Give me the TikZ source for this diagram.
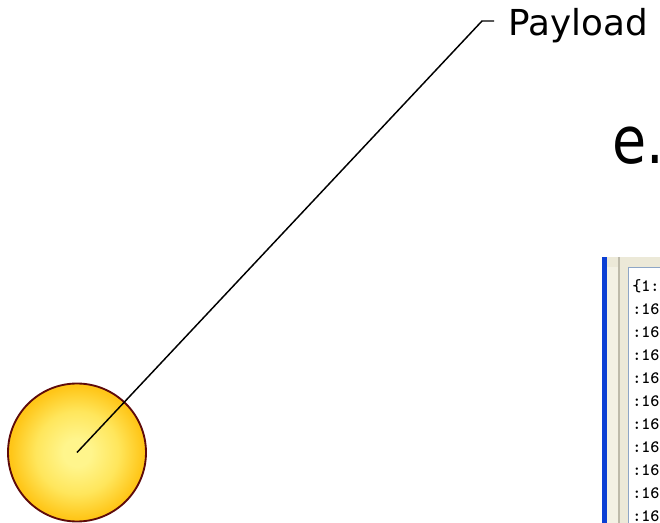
\documentclass[tikz,border=0pt]{standalone}
\usepackage{fontspec}
\setmainfont{DejaVu Sans}
\definecolor{ballin}{HTML}{FFF58C}
\definecolor{ballmid}{HTML}{FFE65C}
\definecolor{ballout}{HTML}{FFC618}
\definecolor{ballrim}{HTML}{5E0B0B}
\definecolor{xpblue}{HTML}{0B3FD4}
\definecolor{xpcream}{HTML}{F3F1E4}
\definecolor{xpbeige}{HTML}{ECE9D8}
\definecolor{xpgray}{HTML}{BDBAAA}
\definecolor{xpframe}{HTML}{8EA6C6}
\pgfdeclareradialshading{ballshade}{\pgfpoint{0bp}{0bp}}{color(0bp)=(ballin); color(5bp)=(ballin); color(15bp)=(ballmid); color(24bp)=(ballout); color(25bp)=(ballout); color(50bp)=(ballout)}
\tikzset{
  leader/.style={draw=black, line width=1.1pt},
  ballstyle/.style={circle, inner sep=0pt, minimum size=103.5pt, shading=ballshade, draw=ballrim, line width=1.4pt},
  labeltext/.style={anchor=base west, inner sep=0pt, font=\fontsize{26.8pt}{30pt}\selectfont},
  bigtext/.style={anchor=base west, inner sep=0pt, xscale=0.85, font=\fontsize{49pt}{55pt}\selectfont},
  codeline/.style={anchor=base west, inner sep=0pt, font=\ttfamily\bfseries\fontsize{13pt}{15pt}\selectfont, text=black}
}
\begin{document}
\begin{tikzpicture}[x=0.75pt, y=-0.75pt]
\useasboundingbox (0,0) rectangle (660,523);
\begin{scope}
\clip (0,0) rectangle (660,523);
% screenshot fragment
\fill[xpcream] (607,257) rectangle (660,523);
\fill[xpbeige] (620,257) rectangle (660,523);
\fill[xpbeige] (607,257) rectangle (660,267);
\fill[xpblue] (602,257) rectangle (607,523);
\fill[xpgray] (618,257) rectangle (620,523);
\filldraw[fill=white, draw=xpframe, line width=0.9pt] (628.5,267.5) rectangle (670,540);
\node[codeline] (c0) at (632,292) {\{1:};
\foreach \i in {1,...,10} {
  \node[codeline] (c\i) at (632,292+22.9*\i) {:16};
}
% big text
\node[bigtext] (etext) at (612,164) {e.};
\end{scope}
% ball and label
\node[ballstyle] (ball) at (77,452.5) {};
\node[labeltext] (payload) at (508.5,36) {Payload};
\coordinate (bend) at (482,21);
\coordinate (tip) at (494,21);
\draw[leader] (ball.center) -- (bend) -- (tip);
\end{tikzpicture}
\end{document}
